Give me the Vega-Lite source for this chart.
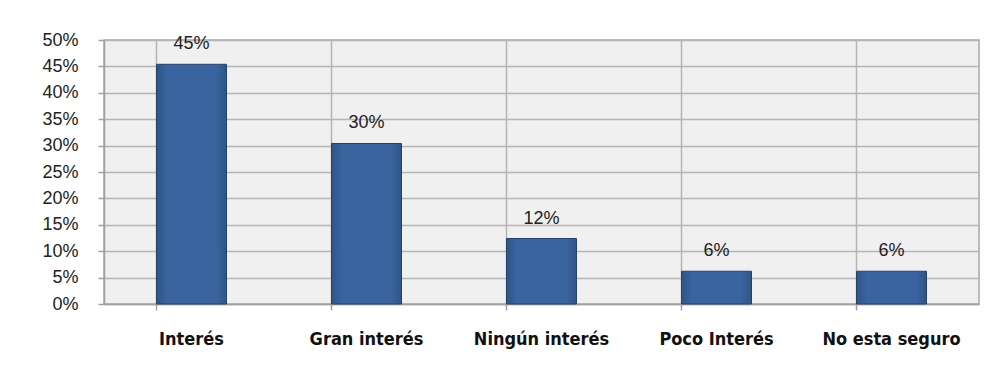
{
  "$schema": "https://vega.github.io/schema/vega-lite/v6.json",
  "autosize": "none",
  "width": 875,
  "height": 264,
  "padding": {"left": 104, "top": 40, "right": 23, "bottom": 71},
  "background": "white",
  "data": {"values": [
    {"cat": "Interés", "pct": 0.454},
    {"cat": "Gran interés", "pct": 0.304},
    {"cat": "Ningún interés", "pct": 0.124},
    {"cat": "Poco Interés", "pct": 0.062},
    {"cat": "No esta seguro", "pct": 0.062}
  ]},
  "config": {
    "view": {"fill": "#f0f0f0", "stroke": "#a8a8a8", "strokeWidth": 1.5}
  },
  "encoding": {
    "x": {"field": "cat", "type": "nominal", "sort": null,
      "scale": {"paddingInner": 0.6, "paddingOuter": 0.3},
      "axis": {"title": null, "labelAngle": 0, "bandPosition": 0,
        "grid": true, "gridColor": "#b5b5b5", "gridWidth": 1.5,
        "domainColor": "#a0a0a0", "domainWidth": 1.5,
        "tickColor": "#a0a0a0", "tickSize": 6, "tickWidth": 1.5,
        "labelFont": "'Liberation Sans Narrow', 'DejaVu Sans Condensed', 'Liberation Sans', sans-serif", "labelFontWeight": "bold", "labelFontSize": 18,
        "labelColor": "#111111", "labelPadding": 20}},
    "y": {"field": "pct", "type": "quantitative",
      "scale": {"domain": [0, 0.5], "nice": false},
      "axis": {"title": null, "format": ".0%", "values": [0,0.05,0.1,0.15,0.2,0.25,0.3,0.35,0.4,0.45,0.5],
        "grid": true, "gridColor": "#b5b5b5", "gridWidth": 1.5,
        "domainColor": "#a0a0a0", "domainWidth": 1.5,
        "tickColor": "#a0a0a0", "tickSize": 6, "tickWidth": 1.5,
        "labelFont": "Liberation Sans", "labelFontSize": 18, "labelColor": "#222222", "labelPadding": 20}}
  },
  "layer": [
    {"mark": {"type": "bar", "stroke": "#24436b", "strokeWidth": 1,
      "color": {"gradient": "linear", "x1": 0, "x2": 1, "y1": 0, "y2": 0,
        "stops": [{"offset": 0, "color": "#2e5585"}, {"offset": 0.15, "color": "#3a64a0"}, {"offset": 0.85, "color": "#3a64a0"}, {"offset": 1, "color": "#2e5585"}]}}},
    {"mark": {"type": "text", "baseline": "bottom", "dy": -11, "font": "Liberation Sans", "fontSize": 18, "color": "#222222"},
      "encoding": {"text": {"field": "pct", "format": ".0%"}}}
  ]
}
